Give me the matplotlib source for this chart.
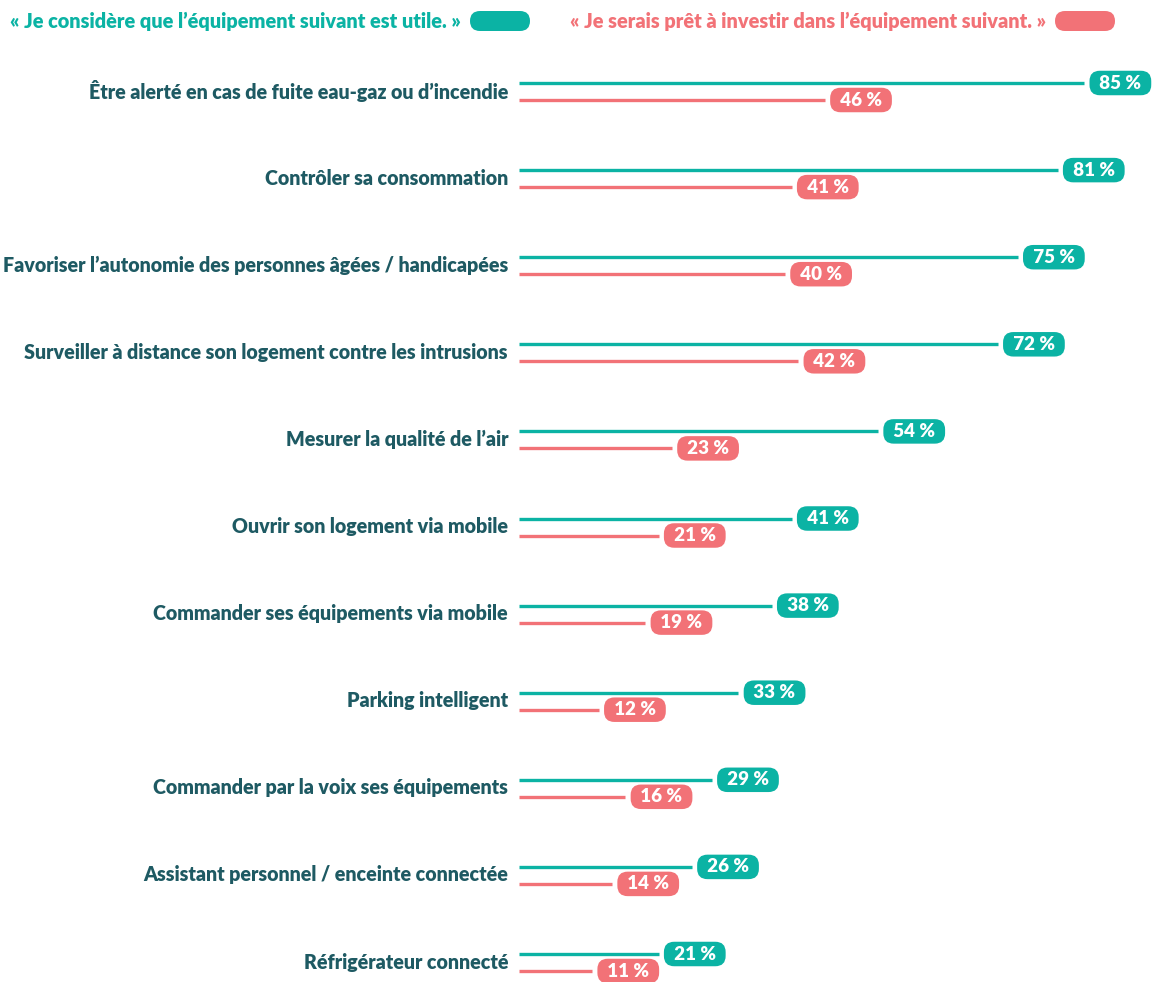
import matplotlib
matplotlib.use("Agg")
import matplotlib.pyplot as plt
from matplotlib.patches import FancyBboxPatch

categories = [
    "Être alerté en cas de fuite eau-gaz ou d’incendie",
    "Contrôler sa consommation",
    "Favoriser l’autonomie des personnes âgées / handicapées",
    "Surveiller à distance son logement contre les intrusions",
    "Mesurer la qualité de l’air",
    "Ouvrir son logement via mobile",
    "Commander ses équipements via mobile",
    "Parking intelligent",
    "Commander par la voix ses équipements",
    "Assistant personnel / enceinte connectée",
    "Réfrigérateur connecté",
]
utile = [85, 81, 75, 72, 54, 41, 38, 33, 29, 26, 21]
investir = [46, 41, 40, 42, 23, 21, 19, 12, 16, 14, 11]
legend_labels = ["« Je considère que l’équipement suivant est utile. »",
                 "« Je serais prêt à investir dans l’équipement suivant. »"]

TEAL = "#0BB3A4"
CORAL = "#F27277"
DARK = "#1E5A63"
FONT = ["Lato", "DejaVu Sans"]

W, H = 1158, 982
fig = plt.figure(figsize=(W / 100, H / 100), dpi=100)

# overlay for legend
ov = fig.add_axes([0, 0, 1, 1])
ov.set_xlim(0, W)
ov.set_ylim(H, 0)
ov.axis("off")

PX = 6.65  # pixels per percent
x0 = 519
ax = fig.add_axes([x0 / W, 0, (W - x0) / W, 1])
ax.set_xlim(0, (W - x0) / PX)
step = 87.1
top = 91
ax.set_ylim((H - top) / step, -top / step)
ax.axis("off")

d_teal = -8 / step
d_coral = 9 / step

for i, (cat, u, v) in enumerate(zip(categories, utile, investir)):
    ax.text(-11 / PX, i, cat, ha="right", va="center", fontsize=14.15,
            fontweight="heavy", color=DARK, family=FONT, clip_on=False)
    for val, d, col in ((u, d_teal, TEAL), (v, d_coral, CORAL)):
        ax.plot([0, val], [i + d, i + d], color=col, lw=2.4,
                solid_capstyle="butt")
        ax.text(val + 9 / PX, i + d, f"\u2004{val} %\u2004", ha="left",
                va="center", fontsize=13.5, fontweight="heavy", color="white",
                family=FONT,
                bbox=dict(boxstyle="round,pad=0.2,rounding_size=0.55",
                          fc=col, ec="none"), clip_on=False)

# legend
ov.text(10, 21, legend_labels[0], ha="left", va="center", fontsize=14.3,
        fontweight="heavy", color=TEAL, family=FONT)
ov.add_patch(FancyBboxPatch((470, 11), 60, 20,
                            boxstyle="round,pad=0,rounding_size=10",
                            fc=TEAL, ec="none", mutation_aspect=1))
ov.text(570, 21, legend_labels[1], ha="left", va="center", fontsize=14.3,
        fontweight="heavy", color=CORAL, family=FONT)
ov.add_patch(FancyBboxPatch((1055, 11), 60, 20,
                            boxstyle="round,pad=0,rounding_size=10",
                            fc=CORAL, ec="none", mutation_aspect=1))

fig.savefig("out.png", dpi=100, facecolor="white")
